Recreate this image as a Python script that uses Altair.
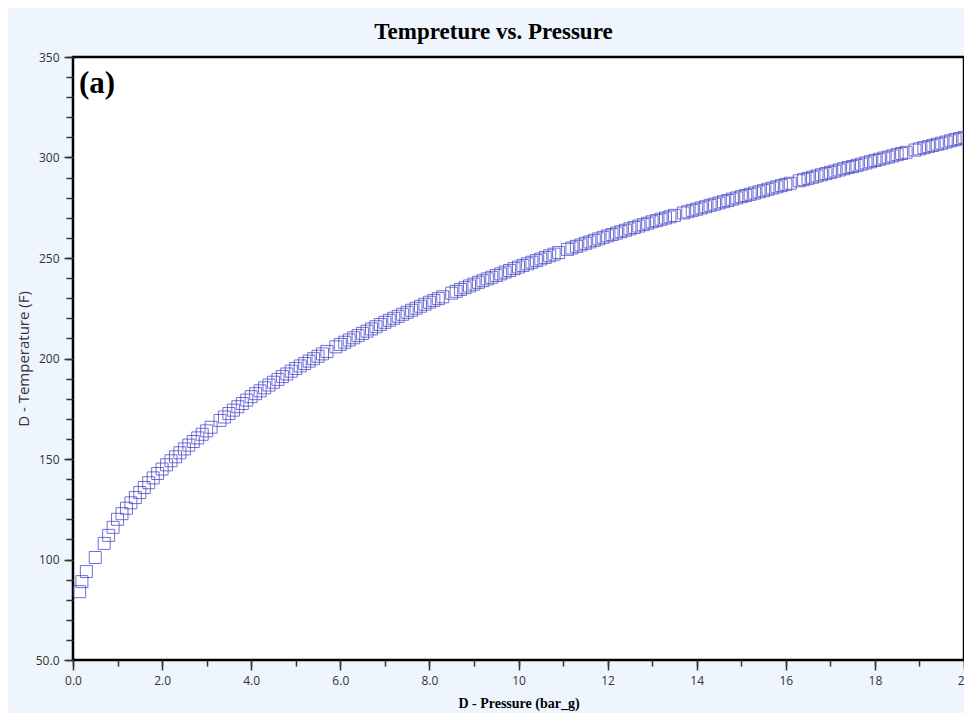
import altair as alt
import pandas as pd

# ---- data (pressure in bar_g, temperature in F) ----
pressure = [
    0.15, 0.2, 0.3, 0.5, 0.7, 0.8, 0.9,
    1.0, 1.1, 1.2, 1.3, 1.4, 1.5, 1.6, 1.7, 1.8, 1.9, 2.0,
    2.1, 2.2, 2.3, 2.4, 2.5, 2.6, 2.7, 2.8, 2.9, 3.0, 3.1,
    3.3, 3.4, 3.5, 3.6, 3.7, 3.8, 3.9, 4.0,
    4.1, 4.2, 4.3, 4.4, 4.5, 4.6, 4.7, 4.8, 4.9, 5.0,
    5.1, 5.2, 5.3, 5.4, 5.5, 5.6, 5.7,
    5.9, 6.0,
    6.1, 6.2, 6.3, 6.4, 6.5, 6.6, 6.7, 6.8, 6.9, 7.0,
    7.1, 7.2, 7.3, 7.4, 7.5, 7.6, 7.7, 7.8, 7.9, 8.0,
    8.1, 8.2, 8.3,
    8.5, 8.6, 8.7, 8.8, 8.9, 9.0,
    9.1, 9.2, 9.3, 9.4, 9.5, 9.6, 9.7, 9.8, 9.9, 10.0,
    10.1, 10.2, 10.3, 10.4, 10.5, 10.6, 10.7, 10.8, 10.9,
    11.1, 11.2, 11.3, 11.4, 11.5, 11.6, 11.7, 11.8, 11.9, 12.0,
    12.1, 12.2, 12.3, 12.4, 12.5, 12.6, 12.7, 12.8, 12.9, 13.0,
    13.1, 13.2, 13.3, 13.4, 13.5,
    13.7, 13.8, 13.9, 14.0,
    14.1, 14.2, 14.3, 14.4, 14.5, 14.6, 14.7, 14.8, 14.9, 15.0,
    15.1, 15.2, 15.3, 15.4, 15.5, 15.6, 15.7, 15.8, 15.9, 16.0,
    16.1,
    16.3, 16.4, 16.5, 16.6, 16.7, 16.8, 16.9, 17.0,
    17.1, 17.2, 17.3, 17.4, 17.5, 17.6, 17.7, 17.8, 17.9, 18.0,
    18.1, 18.2, 18.3, 18.4, 18.5, 18.6, 18.7,
    18.9, 19.0,
    19.1, 19.2, 19.3, 19.4, 19.5, 19.6, 19.7, 19.8, 19.9, 20.0,
]
temperature = [
    84.0, 89.0, 94.0, 101.0, 108.0, 112.0, 116.0,
    120.0, 122.8, 125.5, 128.2, 130.8, 133.3, 135.8, 138.2, 140.6, 142.8, 145.0,
    147.1, 149.1, 151.1, 153.1, 155.0, 156.9, 158.7, 160.5, 162.3, 164.0, 165.8,
    169.2, 170.9, 172.6, 174.3, 176.0, 177.6, 179.3, 181.0,
    182.5, 183.9, 185.4, 186.8, 188.2, 189.6, 191.0, 192.3, 193.7, 195.0,
    196.3, 197.5, 198.7, 199.9, 201.1, 202.3, 203.5,
    205.8, 207.0,
    208.1, 209.2, 210.3, 211.4, 212.5, 213.6, 214.7, 215.8, 216.9, 218.0,
    219.0, 220.0, 221.0, 222.0, 223.0, 224.0, 225.0, 226.0, 227.0, 228.0,
    228.9, 229.8, 230.7,
    232.5, 233.4, 234.3, 235.2, 236.1, 237.0,
    237.9, 238.7, 239.6, 240.4, 241.3, 242.1, 243.0, 243.8, 244.7, 245.5,
    246.3, 247.1, 247.9, 248.7, 249.5, 250.3, 251.1, 251.9, 252.7,
    254.3, 255.0, 255.8, 256.5, 257.3, 258.0, 258.8, 259.5, 260.3, 261.0,
    261.7, 262.4, 263.1, 263.8, 264.5, 265.2, 265.9, 266.6, 267.3, 268.0,
    268.6, 269.3, 269.9, 270.5, 271.2,
    272.4, 273.0, 273.7, 274.3,
    274.9, 275.5, 276.2, 276.8, 277.4, 278.0, 278.6, 279.3, 279.9, 280.5,
    281.1, 281.7, 282.3, 282.9, 283.5, 284.2, 284.8, 285.4, 286.0, 286.6,
    287.2,
    288.4, 289.0, 289.6, 290.2, 290.8, 291.4, 292.0, 292.6,
    293.2, 293.8, 294.4, 295.0, 295.5, 296.1, 296.7, 297.3, 297.9, 298.5,
    299.1, 299.7, 300.2, 300.8, 301.4, 302.0, 302.6,
    303.7, 304.3,
    304.9, 305.4, 306.0, 306.6, 307.1, 307.7, 308.3, 308.9, 309.4, 310.0,
]

x_major_ticks = [0, 2, 4, 6, 8, 10, 12, 14, 16, 18, 20]
x_minor_ticks = [0, 1, 2, 3, 4, 5, 6, 7, 8, 9, 10, 11, 12, 13, 14, 15, 16, 17, 18, 19, 20]
y_major_ticks = [50, 100, 150, 200, 250, 300, 350]
y_minor_ticks = [50, 60, 70, 80, 90, 100, 110, 120, 130, 140, 150, 160, 170, 180, 190,
                 200, 210, 220, 230, 240, 250, 260, 270, 280, 290, 300, 310, 320, 330, 340, 350]
panel_label = ["(a)"]

df = pd.DataFrame({"pressure": pressure, "temperature": temperature})

x_scale = alt.Scale(domain=[0, 20], nice=False, zero=False)
y_scale = alt.Scale(domain=[50, 350], nice=False, zero=False)

sans = "Open Sans"
serif = "Liberation Serif"

points = alt.Chart(df).mark_point(
    shape="square", filled=False, size=144, stroke="#4040c8",
    strokeWidth=1, opacity=0.75, clip=True,
).encode(
    x=alt.X("pressure:Q", scale=x_scale, axis=alt.Axis(
        orient="bottom", values=x_major_ticks, tickSize=10, tickWidth=1.5, tickColor="#333333",
        domain=False, grid=False, labelFont=sans, labelFontSize=12, labelColor="#333333",
        labelPadding=5, labelFlush=False,
        labelExpr="datum.value < 10 ? format(datum.value, '.1f') : format(datum.value, 'd')",
        title="D - Pressure (bar_g)", titleFont=serif, titleFontSize=14, titleFontWeight="bold",
        titleColor="black", titlePadding=10,
    )),
    y=alt.Y("temperature:Q", scale=y_scale, axis=alt.Axis(
        orient="left", values=y_major_ticks, tickSize=9, tickWidth=1.5, tickColor="#333333",
        domain=False, grid=False, labelFont=sans, labelFontSize=12, labelColor="#333333",
        labelPadding=5, labelFlush=False,
        labelExpr="datum.value < 100 ? format(datum.value, '.1f') : format(datum.value, 'd')",
        title="D - Temperature (F)", titleFont=sans, titleFontSize=15, titleFontWeight="normal",
        titleColor="#333333", titlePadding=4,
    )),
)

minor = alt.Chart(df).mark_point(opacity=0).encode(
    x=alt.X("pressure:Q", scale=x_scale, axis=alt.Axis(
        orient="bottom", values=x_minor_ticks, tickSize=6, tickWidth=1.5, tickColor="#333333",
        domain=False, grid=False, labels=False, title=None,
    )),
    y=alt.Y("temperature:Q", scale=y_scale, axis=alt.Axis(
        orient="left", values=y_minor_ticks, tickSize=7, tickWidth=1.5, tickColor="#333333",
        domain=False, grid=False, labels=False, title=None,
    )),
)

label = alt.Chart(pd.DataFrame({"t": panel_label})).mark_text(
    font=serif, fontSize=31, fontWeight="bold", align="left", baseline="middle", color="black",
).encode(text="t:N", x=alt.value(6), y=alt.value(27))

chart = alt.layer(minor, points, label).resolve_axis(
    x="independent", y="independent"
).properties(
    width=891,
    height=603,
    autosize=alt.AutoSizeParams(type="none"),
    padding={"left": 65, "top": 49, "right": 0, "bottom": 56},
    background="#EEF5FC",
    title=alt.Title("Tempreture vs. Pressure", font=serif, fontSize=23, fontWeight="bold",
                    color="black", anchor="middle", offset=7, dx=-25),
).configure_view(stroke="black", strokeWidth=2.5, fill="white")

chart.save("out.html", embed_options={"renderer": "svg", "actions": False})
